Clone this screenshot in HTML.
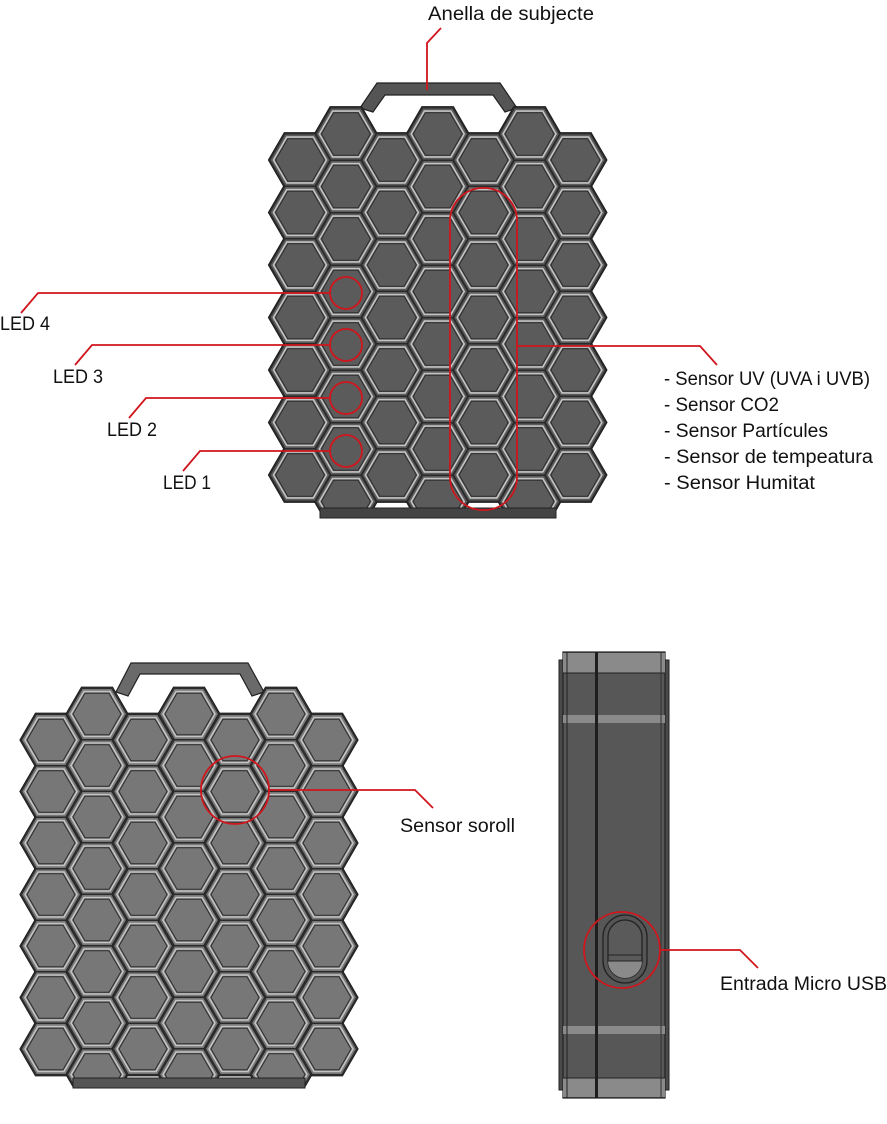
<!DOCTYPE html>
<html><head><meta charset="utf-8"><style>
html,body{margin:0;padding:0;background:#fff;}
svg{display:block;}
text{font-family:"Liberation Sans",sans-serif;font-size:19px;fill:#111;}
</style></head><body>
<svg id="s" width="887" height="1124" viewBox="0 0 887 1124" xmlns="http://www.w3.org/2000/svg">
<defs>
<clipPath id="c1"><rect x="0" y="0" width="887" height="518"/></clipPath>
<clipPath id="c2"><rect x="0" y="600" width="887" height="488"/></clipPath>
</defs>
<path d="M360,108 L377,83 L500,83 L517,108 L505,112 L493,95 L385,95 L373,112 Z" fill="#555" stroke="#222" stroke-width="1.2"/>
<path d="M116,692 L131,663 L248,663 L264,692 L252,696 L240,674 L140,674 L128,696 Z" fill="#6a6a6a" stroke="#222" stroke-width="1.2"/>
<g id="top" clip-path="url(#c1)"></g>
<rect x="320" y="508" width="236" height="10" fill="#444" stroke="#222"/>
<g id="bot" clip-path="url(#c2)"></g>
<rect x="73" y="1078" width="232" height="10" fill="#555" stroke="#222"/>

<rect x="559" y="660" width="110" height="430" fill="#4a4a4a" stroke="#222"/>
<rect x="563" y="652" width="102" height="446" fill="#575757" stroke="#222" stroke-width="1.2"/>
<rect x="563" y="653" width="102" height="20" fill="#8a8a8a"/>
<rect x="563" y="715" width="102" height="8" fill="#8a8a8a"/>
<rect x="563" y="1026" width="102" height="8" fill="#8a8a8a"/>
<rect x="563" y="1078" width="102" height="19" fill="#8a8a8a"/>
<line x1="563" y1="673" x2="665" y2="673" stroke="#222"/>
<line x1="563" y1="1078" x2="665" y2="1078" stroke="#222"/>
<line x1="567" y1="652" x2="567" y2="1098" stroke="#222"/>
<line x1="661" y1="652" x2="661" y2="1098" stroke="#333"/>
<rect x="595" y="652" width="3" height="446" fill="#1e1e1e"/>
<rect x="603" y="915" width="44" height="68" rx="22" fill="#555" stroke="#222" stroke-width="1.3"/>
<rect x="608" y="920" width="34" height="58" rx="17" fill="#5a5a5a" stroke="#222" stroke-width="1.3"/>
<path d="M608,961 L642,961 A17,17 0 0 1 625,978 A17,17 0 0 1 608,961Z" fill="#8a8a8a"/>
<line x1="608" y1="955" x2="642" y2="955" stroke="#222"/>
<line x1="608" y1="961" x2="642" y2="961" stroke="#222"/>

<g fill="none" stroke="#d0161c" stroke-width="1.8">
<polyline points="441,28 427,43 427,90"/>
<rect x="450" y="188" width="67" height="322" rx="33"/>
<polyline points="517,346 700,346 717,365"/>
<circle cx="346" cy="293" r="16"/>
<circle cx="346" cy="345" r="16"/>
<circle cx="346" cy="398" r="16"/>
<circle cx="346" cy="451" r="16"/>
<polyline points="330,293 38,293 21,313"/>
<polyline points="330,345 92,345 75,365"/>
<polyline points="330,398 146,398 129,418"/>
<polyline points="330,451 200,451 183,471"/>
<circle cx="235" cy="790" r="34"/>
<polyline points="269,790 415,790 433,808"/>
<circle cx="622" cy="950" r="38"/>
<polyline points="660,950 740,950 758,968"/>
</g>

<text x="428" y="20" textLength="166" lengthAdjust="spacingAndGlyphs">Anella de subjecte</text>
<text x="0" y="330" textLength="50" lengthAdjust="spacingAndGlyphs">LED 4</text>
<text x="53" y="383" textLength="50" lengthAdjust="spacingAndGlyphs">LED 3</text>
<text x="107" y="436" textLength="50" lengthAdjust="spacingAndGlyphs">LED 2</text>
<text x="163" y="489" textLength="48" lengthAdjust="spacingAndGlyphs">LED 1</text>
<text x="664" y="385" textLength="206" lengthAdjust="spacingAndGlyphs">- Sensor UV (UVA i UVB)</text>
<text x="664" y="411" textLength="115" lengthAdjust="spacingAndGlyphs">- Sensor CO2</text>
<text x="664" y="437" textLength="164" lengthAdjust="spacingAndGlyphs">- Sensor Partícules</text>
<text x="664" y="463" textLength="209" lengthAdjust="spacingAndGlyphs">- Sensor de tempeatura</text>
<text x="664" y="489" textLength="151" lengthAdjust="spacingAndGlyphs">- Sensor Humitat</text>
<text x="400" y="832" textLength="115" lengthAdjust="spacingAndGlyphs">Sensor soroll</text>
<text x="720" y="990" textLength="167" lengthAdjust="spacingAndGlyphs">Entrada Micro USB</text>
</svg>
<script>
(function(){
var NS="http://www.w3.org/2000/svg";
function hex(cx,cy,R){var p=[];for(var i=0;i<6;i++){var a=Math.PI/3*i;p.push((cx+R*Math.cos(a)).toFixed(1)+","+(cy+R*Math.sin(a)).toFixed(1));}return p.join(" ");}
function poly(g,pts,fill,stroke,sw){var e=document.createElementNS(NS,"polygon");e.setAttribute("points",pts);e.setAttribute("fill",fill);e.setAttribute("stroke",stroke);e.setAttribute("stroke-width",sw);g.appendChild(e);}
function dev(id,x0,dx,yEven,yOdd,s,R,face,back){
 var g=document.getElementById(id);var list=[];
 for(var c=0;c<7;c++){var odd=c%2==1;var y0=odd?yOdd:yEven;var n=odd?8:7;
  for(var k=0;k<n;k++){list.push([x0+dx*c,y0+s*k]);}}
 list.forEach(function(p){poly(g,hex(p[0],p[1],R+1.5),back,"#1e1e1e",1.2);});
 list.forEach(function(p){
  poly(g,hex(p[0],p[1],R),face,"#2a2a2a",1);
  poly(g,hex(p[0],p[1],R-3.5),face,"#c4c4c4",1.6);
  poly(g,hex(p[0],p[1],R-5.5),face,"#2e2e2e",1);
 });
}
dev("top",300,45.9,160,134,52.5,30,"#5b5b5b","#3f3f3f");
dev("bot",51,46,740,714,51.5,29.5,"#777777","#4c4c4c");
})();
</script>
</body></html>
